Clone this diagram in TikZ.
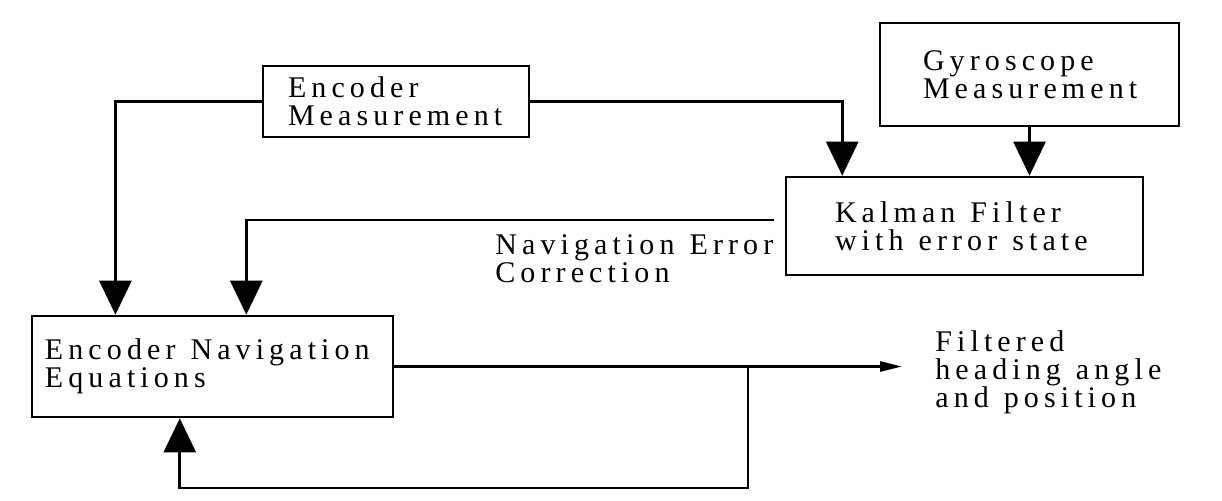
\documentclass[tikz,border=0pt]{standalone}
\usepackage{fontspec}
\setmainfont{Liberation Serif}[LetterSpace=17]
\usetikzlibrary{arrows.meta,positioning,calc}
\newcommand{\lbl}{\fontsize{15pt}{14pt}\selectfont}
\tikzset{
  blk/.style={draw,line width=1.3pt,inner xsep=0pt,inner ysep=0pt,align=left,font=\lbl,
    execute at begin node={\spaceskip=0.5em\relax}},
  txt/.style={inner sep=0pt,align=left,font=\lbl,anchor=west,
    execute at begin node={\spaceskip=0.5em\relax}},
  ar/.style={-{Triangle[length=17pt,width=16pt]},line width=1.3pt},
  lin/.style={line width=1.3pt},
}

\begin{document}
\begin{tikzpicture}[x=0.5pt,y=-0.5pt]
\useasboundingbox (0,0) rectangle (1222,500);
% blocks
\node[blk,minimum width=133pt,minimum height=35.5pt,text width=108pt] (enc) at (396,101.5)
  {Encoder\\Measurement};
\node[blk,minimum width=149.5pt,minimum height=51.5pt,text width=106.5pt] (gyro) at (1029.5,74.5)
  {Gyroscope\\Measurement};
\node[blk,minimum width=178.5pt,minimum height=49pt,text width=129.5pt] (kal) at (964.5,226)
  {Kalman Filter\\with error state};
\node[blk,minimum width=180.5pt,minimum height=50.5pt,text width=167.5pt] (nav) at (212.5,366.5)
  {Encoder Navigation\\Equations};
% labels
\node[txt] (corr) at (495,259) {Navigation Error\\Correction};
\node[txt] (out) at (935,372) {Filtered\\heading angle\\and position};
% ports
\coordinate (kalin) at ($(kal.north west)!0.16!(kal.north east)$);
\coordinate (navin1) at ($(nav.north west)!0.233!(nav.north east)$);
\coordinate (navin2) at ($(nav.north west)!0.593!(nav.north east)$);
\coordinate (navin3) at ($(nav.south west)!0.41!(nav.south east)$);
\coordinate (outend) at (902,363);
\coordinate (fb) at (748,488);
% connectors
\draw[ar] (enc.west) -| (navin1);
\draw[ar] (enc.east) -| (kalin);
\draw[ar] (gyro.south) -- (gyro.south |- kal.north);
\draw[ar] ($(kal.west)+(-11,-6)$) -| (navin2);
\draw[-{Triangle[length=11pt,width=5pt]},lin] (nav.east) -- (nav.east -| outend);
\draw[ar] (nav.east -| fb) -- (fb) -| (navin3);
\end{tikzpicture}
\end{document}
